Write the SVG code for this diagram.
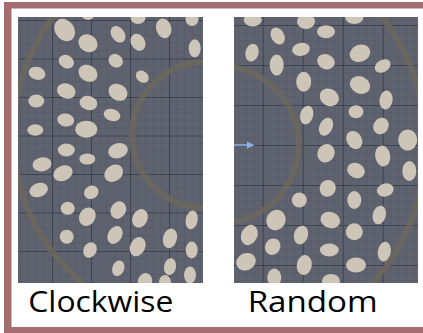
<svg xmlns="http://www.w3.org/2000/svg" width="423" height="333" viewBox="0 0 423 333">
<style>
.bg{fill:#5f6370}
.g{fill:#cec5b9}
.ring{fill:none;stroke:#6c665d;stroke-width:6;opacity:0.85}
.lbl{font-family:"Open Sans","Liberation Sans",sans-serif;font-size:29px;fill:#000}
.frame{fill:#a46e70}
</style>
<defs>
<pattern id="gridL" patternUnits="userSpaceOnUse" x="13" y="20" width="39" height="38.5">
<rect width="39" height="38.5" fill="#5f6370"/>
<g stroke="#585c69" stroke-width="1">
<path d="M7.8 0V38.5M15.6 0V38.5M23.4 0V38.5M31.2 0V38.5M0 7.7H39M0 15.4H39M0 23.1H39M0 30.8H39"/>
</g>
<path d="M0.5 0V38.5M0 0.5H39" stroke="#40444f" stroke-width="1.2"/>
</pattern>
<pattern id="gridR" patternUnits="userSpaceOnUse" x="262.7" y="25" width="40" height="40">
<rect width="40" height="40" fill="#5f6370"/>
<g stroke="#585c69" stroke-width="1">
<path d="M8 0V40M16 0V40M24 0V40M32 0V40M0 8H40M0 16H40M0 24H40M0 32H40"/>
</g>
<path d="M0.5 0V40M0 0.5H40" stroke="#40444f" stroke-width="1.2"/>
</pattern>
<clipPath id="cL"><rect x="18" y="17" width="185" height="266"/></clipPath>
<clipPath id="cR"><rect x="234" y="17" width="184" height="266"/></clipPath>
<marker id="ah" viewBox="0 0 6 6" refX="5" refY="3" markerWidth="5" markerHeight="5" orient="auto">
<path d="M0 0L6 3L0 6z" fill="#8ab4e6"/>
</marker>
</defs>
<rect width="423" height="333" fill="#ffffff"/>
<g id="frame">
<rect class="frame" x="4" y="2" width="419" height="6.5"/>
<rect class="frame" x="4" y="2" width="7.5" height="331"/>
<rect class="frame" x="4" y="327" width="419" height="6"/>
</g>
<g id="clockwise" clip-path="url(#cL)">
<rect x="18" y="17" width="185" height="266" fill="url(#gridL)"/>
<circle class="ring" cx="205" cy="135" r="73"/>
<circle class="ring" cx="206" cy="135" r="193"/>
<ellipse class="g" cx="88" cy="14" rx="6.5" ry="6"/>
<ellipse class="g" cx="64.7" cy="30" rx="9.5" ry="12" transform="rotate(-35 64.7 30)"/>
<ellipse class="g" cx="88" cy="43.3" rx="10" ry="8.5" transform="rotate(35 88 43.3)"/>
<ellipse class="g" cx="118" cy="34.3" rx="6.5" ry="9" transform="rotate(-35 118 34.3)"/>
<ellipse class="g" cx="138" cy="18" rx="7.5" ry="6"/>
<ellipse class="g" cx="163.7" cy="28.3" rx="7.5" ry="10" transform="rotate(-15 163.7 28.3)"/>
<ellipse class="g" cx="138" cy="42.3" rx="7" ry="9" transform="rotate(-30 138 42.3)"/>
<ellipse class="g" cx="192" cy="19" rx="6.5" ry="7"/>
<ellipse class="g" cx="194.7" cy="48.3" rx="6" ry="9"/>
<ellipse class="g" cx="66.3" cy="61.7" rx="8" ry="6.5" transform="rotate(30 66.3 61.7)"/>
<ellipse class="g" cx="88" cy="73.3" rx="10" ry="8" transform="rotate(30 88 73.3)"/>
<ellipse class="g" cx="115.7" cy="60.7" rx="7.5" ry="6.5" transform="rotate(35 115.7 60.7)"/>
<ellipse class="g" cx="142.3" cy="76.7" rx="7" ry="5.5" transform="rotate(40 142.3 76.7)"/>
<ellipse class="g" cx="37" cy="73.3" rx="8.5" ry="6.5" transform="rotate(15 37 73.3)"/>
<ellipse class="g" cx="66.3" cy="91" rx="9.5" ry="7.5" transform="rotate(20 66.3 91)"/>
<ellipse class="g" cx="118" cy="92.3" rx="10" ry="8" transform="rotate(30 118 92.3)"/>
<ellipse class="g" cx="88.5" cy="103" rx="9" ry="7" transform="rotate(15 88.5 103)"/>
<ellipse class="g" cx="36.3" cy="101" rx="8" ry="6.5"/>
<ellipse class="g" cx="65.7" cy="120" rx="8.5" ry="6.5" transform="rotate(10 65.7 120)"/>
<ellipse class="g" cx="112" cy="115" rx="8.5" ry="6" transform="rotate(15 112 115)"/>
<ellipse class="g" cx="35.3" cy="130" rx="8" ry="5.8"/>
<ellipse class="g" cx="86.3" cy="129.3" rx="11" ry="8.5"/>
<ellipse class="g" cx="66.3" cy="150" rx="8.5" ry="6.5"/>
<ellipse class="g" cx="118" cy="150.7" rx="10" ry="7.5" transform="rotate(-15 118 150.7)"/>
<ellipse class="g" cx="87.3" cy="159" rx="8" ry="5.5"/>
<ellipse class="g" cx="42" cy="164.3" rx="9.5" ry="7" transform="rotate(-10 42 164.3)"/>
<ellipse class="g" cx="63" cy="173.3" rx="10" ry="7.5" transform="rotate(-25 63 173.3)"/>
<ellipse class="g" cx="113.7" cy="173.3" rx="10" ry="8" transform="rotate(-35 113.7 173.3)"/>
<ellipse class="g" cx="38.7" cy="190" rx="9.5" ry="7" transform="rotate(-20 38.7 190)"/>
<ellipse class="g" cx="91.3" cy="192.3" rx="7.5" ry="6.5" transform="rotate(-30 91.3 192.3)"/>
<ellipse class="g" cx="67.7" cy="208.3" rx="7" ry="6.5"/>
<ellipse class="g" cx="87.3" cy="216.7" rx="8" ry="9.5" transform="rotate(30 87.3 216.7)"/>
<ellipse class="g" cx="118.3" cy="210" rx="7.5" ry="9" transform="rotate(30 118.3 210)"/>
<ellipse class="g" cx="140" cy="218.3" rx="7.5" ry="9.5" transform="rotate(25 140 218.3)"/>
<ellipse class="g" cx="191.7" cy="220" rx="6" ry="9.5" transform="rotate(10 191.7 220)"/>
<ellipse class="g" cx="66.7" cy="236.7" rx="7" ry="7"/>
<ellipse class="g" cx="115" cy="235" rx="7" ry="9.5" transform="rotate(30 115 235)"/>
<ellipse class="g" cx="137.7" cy="246.7" rx="7.5" ry="10" transform="rotate(25 137.7 246.7)"/>
<ellipse class="g" cx="170" cy="238.3" rx="7" ry="10" transform="rotate(15 170 238.3)"/>
<ellipse class="g" cx="90" cy="250" rx="6.5" ry="8" transform="rotate(25 90 250)"/>
<ellipse class="g" cx="191.7" cy="250" rx="6" ry="8.5"/>
<ellipse class="g" cx="118.3" cy="268.3" rx="6" ry="8" transform="rotate(20 118.3 268.3)"/>
<ellipse class="g" cx="170" cy="266.7" rx="6" ry="8.5" transform="rotate(10 170 266.7)"/>
<ellipse class="g" cx="190" cy="275" rx="6" ry="8.5"/>
<ellipse class="g" cx="145" cy="281" rx="7" ry="8" transform="rotate(20 145 281)"/>
<ellipse class="g" cx="165" cy="282" rx="6" ry="7"/>
</g>
<g id="random" clip-path="url(#cR)">
<rect x="234" y="17" width="184" height="266" fill="url(#gridR)"/>
<circle class="ring" cx="220" cy="144.5" r="78.5"/>
<circle class="ring" cx="220" cy="144.5" r="206"/>
<ellipse class="g" cx="252.7" cy="20" rx="9" ry="6.5"/>
<ellipse class="g" cx="306" cy="21.5" rx="9" ry="7.5"/>
<ellipse class="g" cx="354.3" cy="18" rx="9" ry="6"/>
<ellipse class="g" cx="277.7" cy="36" rx="6.5" ry="9" transform="rotate(-30 277.7 36)"/>
<ellipse class="g" cx="326" cy="31.7" rx="9" ry="6.5"/>
<ellipse class="g" cx="252" cy="52.7" rx="6.5" ry="9" transform="rotate(15 252 52.7)"/>
<ellipse class="g" cx="301" cy="49.3" rx="9" ry="6.5" transform="rotate(-10 301 49.3)"/>
<ellipse class="g" cx="276.7" cy="65" rx="7" ry="10.5"/>
<ellipse class="g" cx="326" cy="61.7" rx="9" ry="7.5" transform="rotate(20 326 61.7)"/>
<ellipse class="g" cx="360" cy="53.3" rx="10.5" ry="8.5" transform="rotate(-20 360 53.3)"/>
<ellipse class="g" cx="382.7" cy="66" rx="8.5" ry="6" transform="rotate(-30 382.7 66)"/>
<ellipse class="g" cx="303.7" cy="81.7" rx="7.5" ry="10"/>
<ellipse class="g" cx="360" cy="85" rx="10.5" ry="8.5" transform="rotate(25 360 85)"/>
<ellipse class="g" cx="329.3" cy="97.3" rx="10" ry="8.5" transform="rotate(30 329.3 97.3)"/>
<ellipse class="g" cx="386" cy="100" rx="6.5" ry="9.5" transform="rotate(10 386 100)"/>
<ellipse class="g" cx="306.7" cy="115" rx="6.5" ry="9.5" transform="rotate(15 306.7 115)"/>
<ellipse class="g" cx="356" cy="111.7" rx="7.5" ry="6.5"/>
<ellipse class="g" cx="326" cy="126.7" rx="6.5" ry="9.5" transform="rotate(25 326 126.7)"/>
<ellipse class="g" cx="381" cy="126" rx="7.5" ry="8.5" transform="rotate(35 381 126)"/>
<ellipse class="g" cx="354.3" cy="140" rx="7.5" ry="9.5" transform="rotate(-30 354.3 140)"/>
<ellipse class="g" cx="407.7" cy="140" rx="9.5" ry="10.5"/>
<ellipse class="g" cx="326" cy="153.3" rx="8.5" ry="9.5" transform="rotate(30 326 153.3)"/>
<ellipse class="g" cx="382.7" cy="156" rx="7.5" ry="10.5" transform="rotate(-10 382.7 156)"/>
<ellipse class="g" cx="356" cy="170.5" rx="9" ry="7.5" transform="rotate(25 356 170.5)"/>
<ellipse class="g" cx="409.3" cy="171" rx="7" ry="10"/>
<ellipse class="g" cx="327.7" cy="188.3" rx="8" ry="8.5" transform="rotate(30 327.7 188.3)"/>
<ellipse class="g" cx="385.3" cy="190" rx="8.5" ry="6.5" transform="rotate(-15 385.3 190)"/>
<ellipse class="g" cx="299.3" cy="200" rx="7.5" ry="7.5"/>
<ellipse class="g" cx="354.3" cy="200" rx="7" ry="9"/>
<ellipse class="g" cx="379.3" cy="215" rx="6.5" ry="9.5" transform="rotate(15 379.3 215)"/>
<ellipse class="g" cx="276" cy="220" rx="9.5" ry="10.5" transform="rotate(30 276 220)"/>
<ellipse class="g" cx="330.3" cy="220" rx="10" ry="8" transform="rotate(20 330.3 220)"/>
<ellipse class="g" cx="354.3" cy="231.7" rx="8.5" ry="8.5"/>
<ellipse class="g" cx="249.3" cy="235" rx="8" ry="10.5" transform="rotate(25 249.3 235)"/>
<ellipse class="g" cx="301" cy="235" rx="7" ry="9.5" transform="rotate(15 301 235)"/>
<ellipse class="g" cx="272.7" cy="246.7" rx="7.5" ry="8.5" transform="rotate(30 272.7 246.7)"/>
<ellipse class="g" cx="329.3" cy="250" rx="9.5" ry="6.5"/>
<ellipse class="g" cx="384.3" cy="251.7" rx="6.5" ry="10" transform="rotate(10 384.3 251.7)"/>
<ellipse class="g" cx="246" cy="261.7" rx="10" ry="8.5" transform="rotate(-25 246 261.7)"/>
<ellipse class="g" cx="304.3" cy="265" rx="7.5" ry="10" transform="rotate(10 304.3 265)"/>
<ellipse class="g" cx="356" cy="265" rx="10" ry="7.5"/>
<ellipse class="g" cx="274.3" cy="277.5" rx="7" ry="9"/>
<ellipse class="g" cx="331" cy="281" rx="9" ry="7"/>
</g>
<g id="connectors">
<line x1="234" y1="145" x2="253" y2="145" stroke="#8ab4e6" stroke-width="1.5" marker-end="url(#ah)"/>
</g>
<g id="label-clockwise"><text class="lbl" x="28.3" y="311.5" textLength="145" lengthAdjust="spacingAndGlyphs">Clockwise</text></g>
<g id="label-random"><text class="lbl" x="247.7" y="311.5" textLength="130" lengthAdjust="spacingAndGlyphs">Random</text></g>
</svg>
